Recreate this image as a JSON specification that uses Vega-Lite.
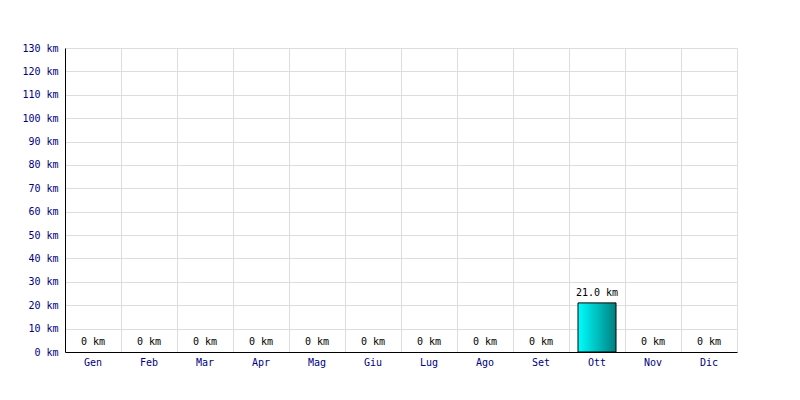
{
  "$schema": "https://vega.github.io/schema/vega-lite/v6.json",
  "autosize": {"type": "none"},
  "width": 672,
  "height": 304,
  "padding": {"left": 65, "top": 48, "right": 63, "bottom": 48},
  "background": "#ffffff",
  "config": {
    "view": {"stroke": "#dddddd"},
    "font": "DejaVu Sans Mono",
    "axis": {"labelFont": "DejaVu Sans Mono", "labelFontSize": 10, "labelColor": "#000080", "gridColor": "#dddddd", "gridOpacity": 1, "domainColor": "#000000", "ticks": false, "title": null}
  },
  "data": {
    "values": [
      {"mese": "Gen", "km": 0, "label": "0 km"},
      {"mese": "Feb", "km": 0, "label": "0 km"},
      {"mese": "Mar", "km": 0, "label": "0 km"},
      {"mese": "Apr", "km": 0, "label": "0 km"},
      {"mese": "Mag", "km": 0, "label": "0 km"},
      {"mese": "Giu", "km": 0, "label": "0 km"},
      {"mese": "Lug", "km": 0, "label": "0 km"},
      {"mese": "Ago", "km": 0, "label": "0 km"},
      {"mese": "Set", "km": 0, "label": "0 km"},
      {"mese": "Ott", "km": 21.0, "label": "21.0 km"},
      {"mese": "Nov", "km": 0, "label": "0 km"},
      {"mese": "Dic", "km": 0, "label": "0 km"}
    ]
  },
  "encoding": {
    "x": {"field": "mese", "type": "nominal",
      "sort": ["Gen","Feb","Mar","Apr","Mag","Giu","Lug","Ago","Set","Ott","Nov","Dic"],
      "scale": {"domain": ["Gen","Feb","Mar","Apr","Mag","Giu","Lug","Ago","Set","Ott","Nov","Dic"], "paddingInner": 0, "paddingOuter": 0},
      "axis": {"labelAngle": 0, "grid": true, "bandPosition": 0, "labelPadding": 5, "domainWidth": 1}},
    "y": {"field": "km", "type": "quantitative",
      "scale": {"domain": [0, 130], "nice": false},
      "axis": {"values": [0,10,20,30,40,50,60,70,80,90,100,110,120,130], "labelExpr": "datum.value + ' km'", "labelPadding": 7, "grid": true}}
  },
  "layer": [
    {
      "transform": [{"filter": "datum.km > 0"}],
      "mark": {"type": "bar", "size": 38, "stroke": "#000000", "strokeWidth": 1,
        "color": {"gradient": "linear", "x1": 0, "y1": 0, "x2": 1, "y2": 0,
          "stops": [{"offset": 0, "color": "#00ffff"}, {"offset": 1, "color": "#008080"}]}}
    },
    {
      "mark": {"type": "text", "baseline": "bottom", "dy": -5, "fontSize": 10, "font": "DejaVu Sans Mono", "color": "#000000"},
      "encoding": {"text": {"field": "label"}}
    }
  ]
}
